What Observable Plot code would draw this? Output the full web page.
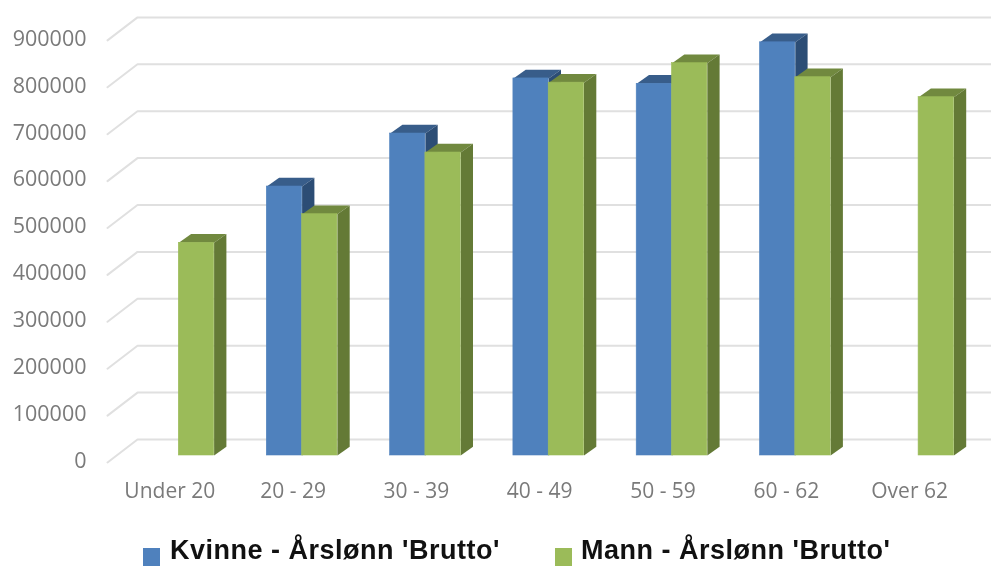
<!DOCTYPE html>
<html>
<head>
<meta charset="utf-8">
<script src="https://cdn.jsdelivr.net/npm/d3@7"></script>
<script src="https://cdn.jsdelivr.net/npm/@observablehq/plot@0.6"></script>
<style>
  html, body { margin: 0; padding: 0; background: #fff; overflow: hidden; }
  #chart { width: 991px; }
  #chart svg { display: block; filter: blur(0.6px); }
  #legend { position: relative; height: 36px; font-family: "Liberation Sans", sans-serif; font-weight: 700; font-size: 27px; letter-spacing: 0.5px; color: #111; filter: blur(0.4px); }
  #legend span.t { position: absolute; top: 4.9px; line-height: 31px; height: 31px; white-space: nowrap; }
  #legend span.s { position: absolute; top: 18px; width: 17px; height: 18px; }
</style>
</head>
<body>
<div id="chart"></div>
<div id="legend"></div>
<script>
const categories = ["Under 20", "20 - 29", "30 - 39", "40 - 49", "50 - 59", "60 - 62", "Over 62"];
const kvinne = [null, 573500, 686500, 804000, 792500, 881000, null];
const mann = [453500, 514500, 646000, 795000, 836500, 806600, 764000];
const yTicks = [0, 100000, 200000, 300000, 400000, 500000, 600000, 700000, 800000, 900000];
const seriesNames = ["Kvinne - Årslønn 'Brutto'", "Mann - Årslønn 'Brutto'"];

const W = 991, H = 530, ML = 94, BASE = 455;
const unitPx = 123.3;          // one category step, in pixels
const valuePx = 46.9 / 100000; // pixels per value unit
const x0Px = 178.3;            // left-most group boundary
const px = p => p / unitPx;
const py = p => p / valuePx;
const barW = px(35.3), depthX = px(12.3), depthY = py(8.7);

function sideRows(values, offset) {
  return values.flatMap((v, i) => {
    if (v == null) return [];
    const a = i + offset + barW, b = a + depthX;
    return [[a, 0], [b, depthY], [b, v + depthY], [a, v]].map(([x, y]) => ({id: i, x, y}));
  });
}
function topRows(values, offset) {
  return values.flatMap((v, i) => {
    if (v == null) return [];
    const a = i + offset, b = a + barW;
    return [[a, v], [b, v], [b + depthX, v + depthY], [a + depthX, v + depthY]].map(([x, y]) => ({id: i, x, y}));
  });
}
const gridRows = yTicks.flatMap(t => [
  {t, x: px(107 - x0Px), y: t - py(7)},
  {t, x: px(137 - x0Px), y: t + py(16)},
  {t, x: px(W - x0Px), y: t + py(16)}
]);
function barMarks(values, offset, cFront, cSide, cTop) {
  const rows = values.map((v, i) => ({i, v})).filter(d => d.v != null);
  return [
    Plot.line(topRows(values, offset), {x: "x", y: "y", z: "id", fill: cTop, stroke: "none"}),
    Plot.line(sideRows(values, offset), {x: "x", y: "y", z: "id", fill: cSide, stroke: "none"}),
    Plot.rect(rows, {x1: d => d.i + offset, x2: d => d.i + offset + barW, y1: 0, y2: "v", fill: cFront, stroke: cFront, strokeWidth: 0.6})
  ];
}

const plot = Plot.plot({
  width: W, height: H,
  marginLeft: ML, marginRight: 0, marginTop: 0, marginBottom: H - BASE,
  style: {background: "#fff", overflow: "visible"},
  x: {domain: [px(ML - x0Px), px(W - x0Px)]},
  y: {domain: [0, py(BASE)]},
  marks: [
    Plot.line(gridRows, {x: "x", y: "y", z: "t", stroke: "#e0e0e0", strokeWidth: 2, strokeLinejoin: "miter"}),
    ...barMarks(kvinne, -barW, "#4f81bd", "#2c4d75", "#385d8a"),
    ...barMarks(mann, 0, "#9bbb59", "#647a36", "#71893f"),
    Plot.axisY({
      ticks: yTicks, tickSize: 0, tickPadding: 8, tickFormat: d3.format("d"), label: null, dy: 5.5,
      fontSize: 21.5, fontFamily: "Open Sans", fill: "#7a7a7a", color: "#7a7a7a"
    }),
    Plot.axisX({
      ticks: d3.range(categories.length), tickSize: 0, tickPadding: 0,
      tickFormat: i => categories[i], label: null, dx: -9, dy: 28,
      fontSize: 21, fontFamily: "Open Sans", fill: "#7a7a7a", color: "#7a7a7a"
    })
  ]
});
document.getElementById("chart").appendChild(plot);

const legend = document.getElementById("legend");
[[143, 170, "#4f81bd"], [555, 581, "#9bbb59"]].forEach(([sx, tx, c], k) => {
  const s = document.createElement("span"); s.className = "s"; s.style.left = sx + "px"; s.style.background = c;
  const t = document.createElement("span"); t.className = "t"; t.style.left = tx + "px"; t.textContent = seriesNames[k];
  legend.append(s, t);
});
</script>
</body>
</html>
